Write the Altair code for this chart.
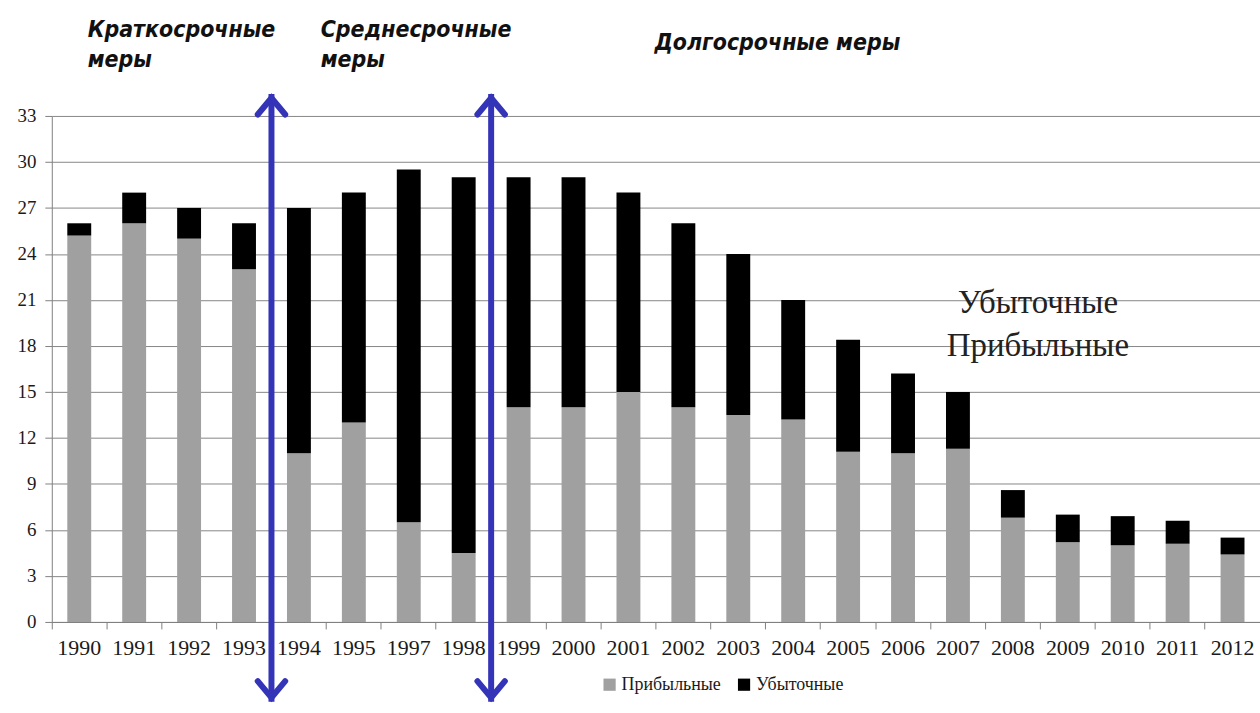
import altair as alt
import pandas as pd

# Number of banks per year, split into profitable and loss-making
years = ["1990", "1991", "1992", "1993", "1994", "1995", "1997", "1998", "1999",
         "2000", "2001", "2002", "2003", "2004", "2005", "2006", "2007", "2008",
         "2009", "2010", "2011", "2012"]
profitable = [25.2, 26, 25, 23, 11, 13, 6.5, 4.5, 14, 14, 15, 14, 13.5, 13.2,
              11.1, 11, 11.3, 6.8, 5.2, 5.0, 5.1, 4.4]
loss_making = [0.8, 2, 2, 3, 16, 15, 23, 24.5, 15, 15, 13, 12, 10.5, 7.8,
               7.3, 5.2, 3.7, 1.8, 1.8, 1.9, 1.5, 1.1]
series_names = ["Прибыльные", "Убыточные"]
y_ticks = list(range(0, 34, 3))

# Years after which a new policy period starts
period_breaks = ["1993", "1998"]

rows = []
for i, yr in enumerate(years):
    rows.append({"year": yr, "kind": series_names[0], "value": profitable[i], "ord": 0})
    rows.append({"year": yr, "kind": series_names[1], "value": loss_making[i], "ord": 1})
df = pd.DataFrame(rows)
breaks_df = pd.DataFrame({"year": period_breaks})

SERIF = "Liberation Serif"
NARROW = "Liberation Sans Narrow, DejaVu Sans Condensed, Arial Narrow, sans-serif"
BLUE = "#3434b8"

x_scale = alt.Scale(domain=years, paddingInner=0, paddingOuter=0)

bars = alt.Chart(df).mark_bar(size=24).encode(
    x=alt.X("year:N", scale=x_scale, sort=years, title=None,
            axis=alt.Axis(bandPosition=0, labelAngle=0,
                          labelFont=SERIF, labelFontSize=22, labelColor="#1a1a1a",
                          labelPadding=9, tickSize=7, tickColor="#808080",
                          domainColor="#808080", grid=False, labelOverlap=False)),
    y=alt.Y("value:Q", stack="zero", title=None,
            scale=alt.Scale(domain=[0, 33], nice=False),
            axis=alt.Axis(values=y_ticks, labelFont=SERIF, labelFontSize=19,
                          labelColor="#1a1a1a", labelPadding=9, tickSize=7,
                          tickColor="#808080", domainColor="#808080",
                          gridColor="#868686", gridWidth=1)),
    color=alt.Color("kind:N", title=None,
                    scale=alt.Scale(domain=series_names, range=["#a0a0a0", "#000000"]),
                    legend=alt.Legend(orient="none", legendX=551, legendY=562,
                                      direction="horizontal", symbolType="square",
                                      symbolSize=150, symbolStrokeWidth=0,
                                      labelFont=SERIF, labelFontSize=18,
                                      labelColor="#1a1a1a", columnPadding=14,
                                      labelOffset=3)),
    order=alt.Order("ord:Q"),
)

# Double-headed arrows marking the policy periods
arrow_x = alt.X("year:N", scale=x_scale, sort=years, bandPosition=1)
arrow_lines = alt.Chart(breaks_df).mark_rule(color=BLUE, strokeWidth=6).encode(
    x=arrow_x, y=alt.value(-22), y2=alt.value(588)
)
arrow_up = alt.Chart(breaks_df).mark_point(
    shape="M-1,1.2L0,0L1,1.2", filled=False, stroke=BLUE, strokeWidth=6,
    size=760, opacity=1, strokeJoin="miter", strokeCap="round"
).encode(x=arrow_x, y=alt.value(-18))
arrow_down = alt.Chart(breaks_df).mark_point(
    shape="M-1,-1.2L0,0L1,-1.2", filled=False, stroke=BLUE, strokeWidth=6,
    size=760, opacity=1, strokeJoin="miter", strokeCap="round"
).encode(x=arrow_x, y=alt.value(584))

# Period titles above the plot
def heading(txt, x, y):
    return alt.Chart(pd.DataFrame({"t": [txt]})).mark_text(
        font=NARROW, fontSize=23, fontWeight="bold", fontStyle="italic",
        align="left", baseline="top", lineBreak="\n", lineHeight=30,
        color="#111111"
    ).encode(text="t:N", x=alt.value(x), y=alt.value(y))

h1 = heading("Краткосрочные\nмеры", 36, -97)
h2 = heading("Среднесрочные\nмеры", 270, -97)
h3 = heading("Долгосрочные меры", 605, -84)

# Series names written inside the plot
inner = alt.Chart(pd.DataFrame({"t": ["Убыточные", "Прибыльные"], "v": [20.8, 18.0]})).mark_text(
    font=SERIF, fontSize=33, align="center", baseline="middle", color="#222222"
).encode(text="t:N", x=alt.value(990), y=alt.Y("v:Q", scale=alt.Scale(domain=[0, 33], nice=False)))

chart = alt.layer(bars, arrow_lines, arrow_up, arrow_down, h1, h2, h3, inner).properties(
    width=1213, height=508,
    autosize=alt.AutoSizeParams(type="none"),
    padding={"left": 52, "top": 115, "right": 0, "bottom": 90},
    background="white",
).configure_view(stroke=None)

chart.save("out.html", embed_options={"renderer": "svg", "actions": False})
